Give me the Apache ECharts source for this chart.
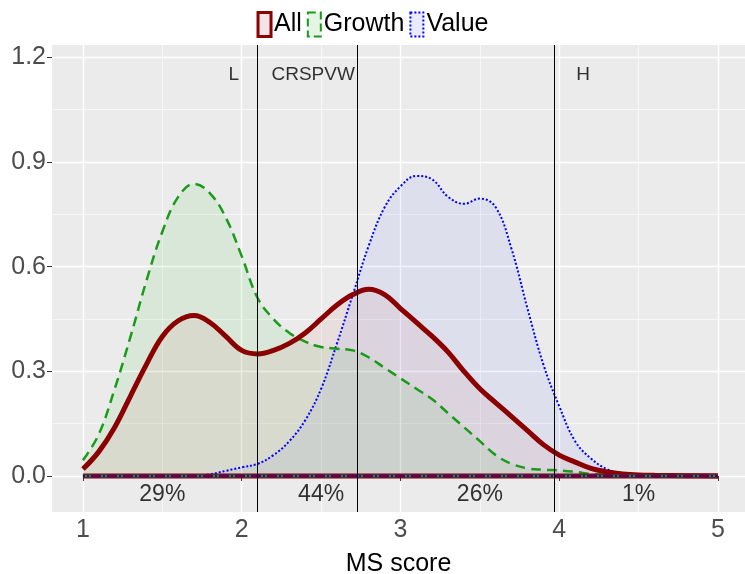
<!DOCTYPE html>
<html>
<head>
<meta charset="utf-8">
<script src="https://cdn.jsdelivr.net/npm/echarts@6/dist/echarts.min.js"></script>
<style>body{margin:0;background:#fff}#echart{width:745px;height:574px}</style>
</head>
<body>
<div id="echart"></div>
<script>
// 数据
var xs = [1.0,1.1,1.2,1.3,1.4,1.5,1.6,1.7,1.8,1.9,2.0,2.1,2.2,2.3,2.4,2.5,2.6,2.7,2.8,2.9,3.0,3.1,3.2,3.3,3.4,3.5,3.6,3.7,3.8,3.9,4.0,4.1,4.2,4.3,4.4,4.5,4.6,4.8,5.0];
var allVals = [0.02,0.07,0.14,0.23,0.32,0.40,0.445,0.46,0.44,0.40,0.36,0.35,0.36,0.38,0.41,0.45,0.49,0.52,0.535,0.52,0.48,0.44,0.40,0.355,0.30,0.25,0.21,0.17,0.13,0.09,0.06,0.04,0.022,0.012,0.006,0.003,0.002,0.001,0];
var growthVals = [0.045,0.12,0.25,0.40,0.56,0.70,0.80,0.837,0.81,0.74,0.63,0.51,0.45,0.41,0.385,0.37,0.365,0.36,0.34,0.31,0.28,0.25,0.22,0.18,0.14,0.10,0.06,0.035,0.022,0.018,0.016,0.012,0.006,0.003,0.002,0.001,0,0,0];
var valueVals = [0,0,0,0,0,0,0.001,0.002,0.005,0.015,0.025,0.035,0.06,0.10,0.16,0.25,0.38,0.52,0.66,0.77,0.83,0.86,0.85,0.80,0.78,0.795,0.77,0.65,0.48,0.32,0.20,0.10,0.05,0.02,0.008,0.003,0.001,0,0];
var cutoffs = [2.096, 2.732, 3.973];
var topLabels = [[1.95,'L'],[2.45,'CRSPVW'],[4.15,'H']];
var bottomLabels = [[1.5,'29%'],[2.5,'44%'],[3.5,'26%'],[4.5,'1%']];
var xTicks = [1,2,3,4,5];
var xMinor = [1.5,2.5,3.5,4.5];
var yTicks = [0,0.3,0.6,0.9,1.2];
var yMinor = [0.15,0.45,0.75,1.05];

function pairs(v){ return xs.map(function(x,i){ return [x, v[i]]; }); }

var XMIN = 0.805, XMAX = 5.17, YMIN = -0.103, YMAX = 1.235;
var grey = '#4d4d4d';

function mkAxis(type, ticks, minor){
  var pos = type==='x' ? 'bottom' : 'left';
  var main = {
    type:'value', position:pos, min: type==='x'?XMIN:YMIN, max: type==='x'?XMAX:YMAX,
    axisLine:{show:false},
    axisTick:{show:true, customValues:ticks, length:5, lineStyle:{color:'#333'}},
    axisLabel:{customValues:ticks, fontSize:25, color:grey, fontFamily:'Liberation Sans', margin:6,
      formatter: function(v){ return type==='x'? String(v) : v.toFixed(1); }},
    splitLine:{show:true, lineStyle:{color:'#fff', width:1.4}}
  };
  var m = {
    type:'value', position:pos, min: main.min, max: main.max, axisLine:{show:false},
    axisTick:{show:false, customValues:minor}, axisLabel:{show:false, customValues:minor},
    splitLine:{show:true, lineStyle:{color:'#fff', width:0.6}}
  };
  if (type==='x') { main.name='MS score'; main.nameLocation='middle'; main.nameGap=40;
    main.nameTextStyle={fontSize:25,color:'#000',fontFamily:'Liberation Sans'}; }
  return [m, main];
}

var xAx = mkAxis('x', xTicks, xMinor);
var yAx = mkAxis('y', yTicks, yMinor);

function dens(name, data, color, type, width, fill){
  return {
    name:name, type:'line', xAxisIndex:1, yAxisIndex:1, data:pairs(data), smooth:0.4,
    symbol:'none', lineStyle:{color:color, type:type, width:width},
    itemStyle:{color:color}, areaStyle:{color:fill, origin:0}, z:3
  };
}
function base(color, type, width){
  return {type:'line', xAxisIndex:1, yAxisIndex:1, data:[[1,0],[5,0]], symbol:'none',
    lineStyle:{color:color,type:type,width:width}, silent:true, z:4};
}

var option = {
  backgroundColor:'#fff',
  grid:{left:52, right:0, top:45, bottom:62, show:true, backgroundColor:'#EBEBEB', borderWidth:0,
    containLabel:false, outerBoundsMode:'none'},
  legend:{
    top:6, left:'center', itemWidth:13, itemGap:5, itemHeight:24,
    textStyle:{fontSize:25, color:'#000', fontFamily:'Liberation Sans', padding:[0,0,0,-2]},
    data:[
      {name:'All', icon:'rect', itemStyle:{color:'rgba(139,0,0,0.1)', borderColor:'#8B0000', borderWidth:3}},
      {name:'Growth', icon:'rect', itemStyle:{color:'rgba(0,160,0,0.1)', borderColor:'#1a9a1a', borderWidth:2, borderType:'dashed'}},
      {name:'Value', icon:'rect', itemStyle:{color:'rgba(0,0,255,0.08)', borderColor:'#0000ff', borderWidth:2, borderType:'dotted'}}
    ]
  },
  xAxis: xAx,
  yAxis: yAx,
  series:[
    dens('Value', valueVals, '#0000ff', 'dotted', 2, 'rgba(80,120,255,0.12)'),
    dens('Growth', growthVals, '#1a9a1a', [10,6], 2.5, 'rgba(40,200,40,0.13)'),
    dens('All', allVals, '#8B0000', 'solid', 5, 'rgba(200,60,60,0.10)'),
    base('#8B0000','solid',5), base('#1a9a1a',[10,6],2.5), base('#0000ff','dotted',2),
    {type:'line', xAxisIndex:1, yAxisIndex:1, data:[], silent:true,
      markLine:{symbol:'none', silent:true, label:{show:false},
        lineStyle:{color:'#000', type:'solid', width:1},
        data: cutoffs.map(function(c){ return {xAxis:c}; })}},
    {type:'scatter', xAxisIndex:1, yAxisIndex:1, symbolSize:0, silent:true,
      data: topLabels.map(function(t){ return {value:[t[0],1.15], name:t[1]}; }),
      label:{show:true, position:'inside', formatter:'{b}', fontSize:19, color:'#000', fontFamily:'Liberation Sans'}},
    {type:'scatter', xAxisIndex:1, yAxisIndex:1, symbolSize:0, silent:true,
      data: bottomLabels.map(function(t){ return {value:[t[0],-0.052], name:t[1]}; }),
      label:{show:true, position:'inside', formatter:'{b}', fontSize:23, color:'#000', fontFamily:'Liberation Sans'}}
  ]
};
var myChart = echarts.init(document.getElementById('echart'));
myChart.setOption(option);
</script>
</body>
</html>
